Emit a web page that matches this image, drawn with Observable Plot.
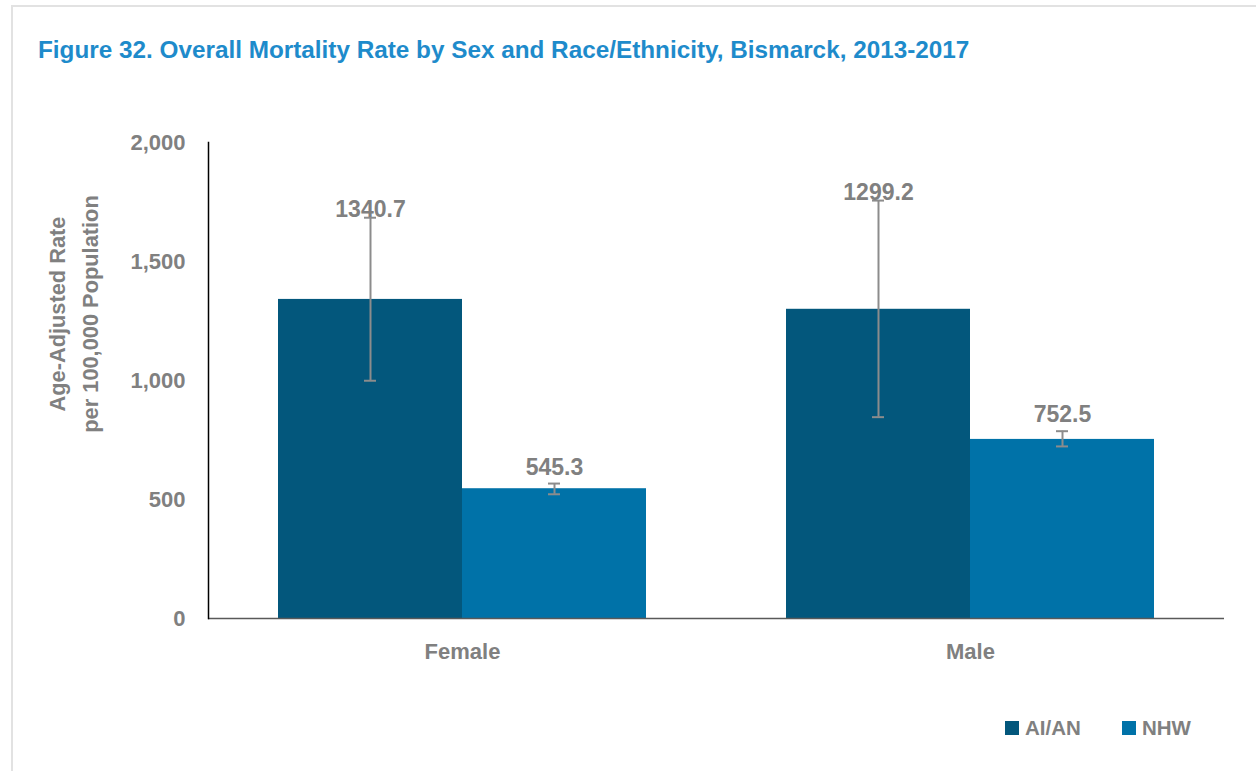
<!DOCTYPE html>
<html>
<head>
<meta charset="utf-8">
<script src="https://cdn.jsdelivr.net/npm/d3@7"></script>
<script src="https://cdn.jsdelivr.net/npm/@observablehq/plot@0.6"></script>
<style>
  html, body { margin: 0; padding: 0; background: #fff; }
  #wrap { position: relative; width: 1256px; height: 771px; overflow: hidden;
    font-family: "Liberation Sans", Arial, sans-serif; }
  #frame { position: absolute; left: 11px; top: 5px; width: 1300px; height: 800px;
    border-left: 2px solid #e2e2e2; border-top: 2px solid #e2e2e2; }
  #title { position: absolute; left: 38px; top: 36px; font-size: 24.3px; font-weight: bold; color: #1E8BCB; white-space: nowrap; line-height: 28px; }
  #chart { position: absolute; left: 0; top: 100px; }
  #ylabel { position: absolute; left: 74px; top: 314px; transform: translate(-50%, -50%) rotate(-90deg);
    text-align: center; font-size: 21.8px; font-weight: bold; color: #808080; line-height: 33px; white-space: nowrap; }
  #legend { position: absolute; top: 716px; left: 1005px; font-size: 20.5px; font-weight: bold; color: #808080; white-space: nowrap; }
  .item { position: absolute; top: 0; display: flex; align-items: center; height: 24px; }
  .sw { width: 14px; height: 14px; margin-right: 6px; }
</style>
</head>
<body>
<div id="wrap">
  <div id="frame"></div>
  <div id="title">Figure 32. Overall Mortality Rate by Sex and Race/Ethnicity, Bismarck, 2013-2017</div>
  <div id="ylabel">Age-Adjusted Rate<br>per 100,000 Population</div>
  <div id="chart"></div>
  <div id="legend"></div>
</div>
<script>
// ---- data ----
const sexes = ["Female", "Male"];
const races = ["AI/AN", "NHW"];
const sex = ["Female", "Female", "Male", "Male"];
const race = ["AI/AN", "NHW", "AI/AN", "NHW"];
const rate = [1340.7, 545.3, 1299.2, 752.5];
const ciLow = [999, 522, 846, 723];
const ciHigh = [1684, 567, 1756, 787];
const yTicks = [0, 500, 1000, 1500, 2000];
const colors = ["#03577C", "#0072A8"];

const data = rate.map((r, i) => ({sex: sex[i], race: race[i], rate: r, lo: ciLow[i], hi: ciHigh[i]}));

const FONT = '"Liberation Sans", Arial, sans-serif';
const GRAY = "#808080";
const ERR = "#8c8c8c";

const labelOpts = {fx: "sex", x: "race", y: "hi", text: d => d.rate.toFixed(1), lineAnchor: "bottom",
  fill: GRAY, fontSize: 23, fontWeight: "bold"};

const chart = Plot.plot({
  width: 1256,
  height: 580,
  marginLeft: 208,
  marginRight: 32,
  marginTop: 42,
  marginBottom: 62,
  style: {fontFamily: FONT, fontWeight: "bold", color: GRAY, fontSize: "22px", background: "transparent", overflow: "visible"},
  fx: {domain: sexes, padding: 0, label: null},
  x: {domain: races, paddingInner: 0, paddingOuter: 0.377, axis: null},
  y: {domain: [0, 2000], label: null},
  color: {domain: races, range: colors},
  marks: [
    Plot.barY(data, {fx: "sex", x: "race", y: "rate", fill: "race"}),
    Plot.ruleX(data, {fx: "sex", x: "race", y1: "lo", y2: "hi", stroke: ERR, strokeWidth: 2}),
    Plot.tickY(data, {fx: "sex", x: "race", y: "lo", stroke: ERR, strokeWidth: 2, insetLeft: 86, insetRight: 86}),
    Plot.tickY(data, {fx: "sex", x: "race", y: "hi", stroke: ERR, strokeWidth: 2, insetLeft: 86, insetRight: 86}),
    Plot.text(data.filter(d => d.race === "AI/AN"), {...labelOpts, dy: -1}),
    Plot.text(data.filter(d => d.race === "NHW"), {...labelOpts, dy: -9}),
    Plot.axisY({ticks: yTicks, tickFormat: d3.format(","), tickSize: 0, tickPadding: 23, fontSize: 22, label: null}),
    Plot.axisFx({anchor: "bottom", tickSize: 0, tickPadding: 25, fontSize: 22, label: null}),
    Plot.ruleY([0], {stroke: "#595959", strokeWidth: 1.5}),
    Plot.frame({anchor: "left", facetAnchor: "left", stroke: "#000", strokeWidth: 1.5})
  ]
});
document.getElementById("chart").appendChild(chart);

// legend
const legend = document.getElementById("legend");
races.forEach((r, i) => {
  const item = document.createElement("div");
  item.className = "item";
  item.style.left = (i * 117) + "px";
  item.innerHTML = `<div class="sw" style="background:${colors[i]}"></div><span>${r}</span>`;
  legend.appendChild(item);
});
</script>
</body>
</html>
